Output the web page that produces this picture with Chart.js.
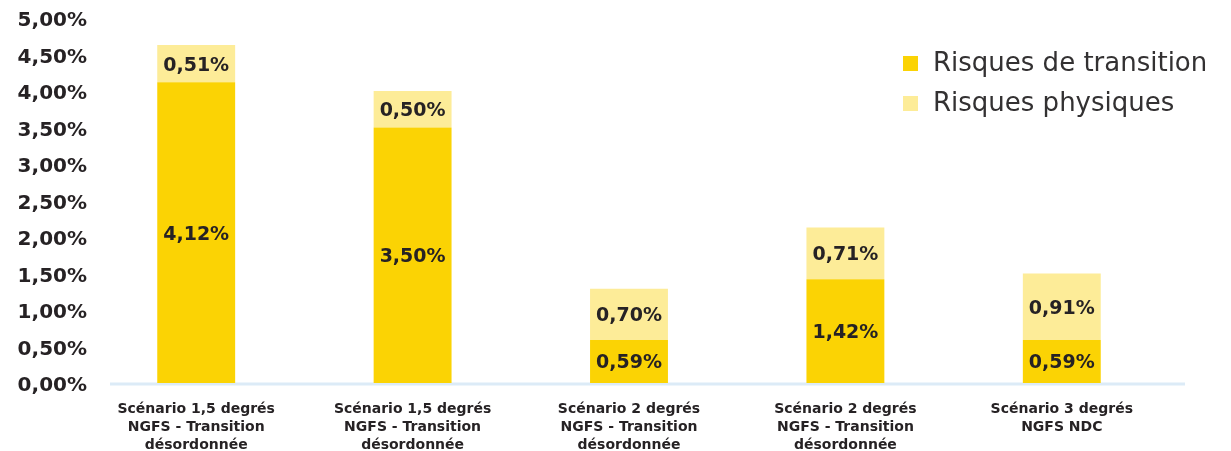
<!DOCTYPE html>
<html>
<head>
<meta charset="utf-8">
<script src="https://cdn.jsdelivr.net/npm/chart.js@4.4.0/dist/chart.umd.min.js"></script>
<style>
  html, body { margin: 0; padding: 0; background: #fff; }
  #wrap { width: 1231px; height: 451px; position: relative; }
</style>
</head>
<body>
<div id="wrap"><canvas id="chart"></canvas></div>
<script>
const categories = [
  ['Scénario 1,5 degrés', 'NGFS - Transition', 'désordonnée'],
  ['Scénario 1,5 degrés', 'NGFS - Transition', 'désordonnée'],
  ['Scénario 2 degrés', 'NGFS - Transition', 'désordonnée'],
  ['Scénario 2 degrés', 'NGFS - Transition', 'désordonnée'],
  ['Scénario 3 degrés', 'NGFS NDC']
];
const transition = [4.12, 3.50, 0.59, 1.42, 0.59];
const physiques = [0.51, 0.50, 0.70, 0.71, 0.91];
const seriesNames = ['Risques de transition', 'Risques physiques'];
const colors = ['#fbd304', '#fdec98'];

const FONT = '"DejaVu Sans", sans-serif';
const INK = '#262224';

function pct(v){
  return v.toFixed(2).replace('.', ',') + '%';
}

// light blue baseline, a bit offset from the chart area like the original
const baseline = {
  id: 'baseline',
  beforeDatasetsDraw(chart){
    const y = chart.scales.y.getPixelForValue(0);
    const ctx = chart.ctx;
    ctx.save();
    ctx.strokeStyle = '#dcebf7';
    ctx.lineWidth = 3;
    ctx.beginPath();
    ctx.moveTo(chart.chartArea.left + 22, y + 1);
    ctx.lineTo(chart.chartArea.right + 15, y + 1);
    ctx.stroke();
    ctx.restore();
  }
};

// value labels in the middle of each segment
const valueLabels = {
  id: 'valueLabels',
  afterDatasetsDraw(chart){
    const ctx = chart.ctx;
    ctx.save();
    ctx.font = 'bold 19px ' + FONT;
    ctx.fillStyle = INK;
    ctx.textAlign = 'center';
    ctx.textBaseline = 'middle';
    chart.data.datasets.forEach(function(ds, di){
      chart.getDatasetMeta(di).data.forEach(function(bar, i){
        const mid = (bar.y + bar.base) / 2;
        ctx.fillText(pct(ds.data[i]), bar.x, mid + 2);
      });
    });
    ctx.restore();
  }
};

// legend inside the plot, top right
const insideLegend = {
  id: 'insideLegend',
  afterDraw(chart){
    const ctx = chart.ctx;
    ctx.save();
    ctx.font = '26px ' + FONT;
    ctx.textBaseline = 'middle';
    ctx.textAlign = 'left';
    chart.data.datasets.forEach(function(ds, di){
      const y = 64 + di * 40;
      ctx.fillStyle = ds.backgroundColor;
      ctx.fillRect(903, y - 8, 15, 15);
      ctx.fillStyle = '#333132';
      ctx.fillText(ds.label, 933, y);
    });
    ctx.restore();
  }
};

const ctx = document.getElementById('chart');
new Chart(ctx, {
  type: 'bar',
  plugins: [baseline, valueLabels, insideLegend],
  data: {
    labels: categories,
    datasets: [{
      label: seriesNames[0],
      data: transition,
      backgroundColor: colors[0],
      borderWidth: 0
    },{
      label: seriesNames[1],
      data: physiques,
      backgroundColor: colors[1],
      borderWidth: 0
    }]
  },
  options: {
    responsive: true,
    maintainAspectRatio: false,
    animation: false,
    barPercentage: 0.36,
    categoryPercentage: 1,
    layout: {
      padding: {top: 18, right: 61, left: 0, bottom: 0}
    },
    plugins: {
      legend: {display: false},
      tooltip: {enabled: false}
    },
    scales: {
      x: {
        stacked: true,
        grid: {display: false, drawTicks: false},
        border: {display: false},
        afterFit: function(scale){ scale.height = 68; },
        ticks: {
          padding: 17,
          maxRotation: 0,
          autoSkip: false,
          color: INK,
          font: {family: FONT, weight: 'bold', size: 14, lineHeight: 1.3}
        }
      },
      y: {
        stacked: true,
        min: 0,
        max: 5,
        grid: {display: false, drawTicks: false},
        border: {display: false},
        afterFit: function(scale){ scale.width = 88; },
        ticks: {
          stepSize: 0.5,
          padding: 1,
          labelOffset: 3,
          color: INK,
          font: {family: FONT, weight: 'bold', size: 20},
          callback: function(v){ return pct(v); }
        }
      }
    }
  }
});
</script>
</body>
</html>
